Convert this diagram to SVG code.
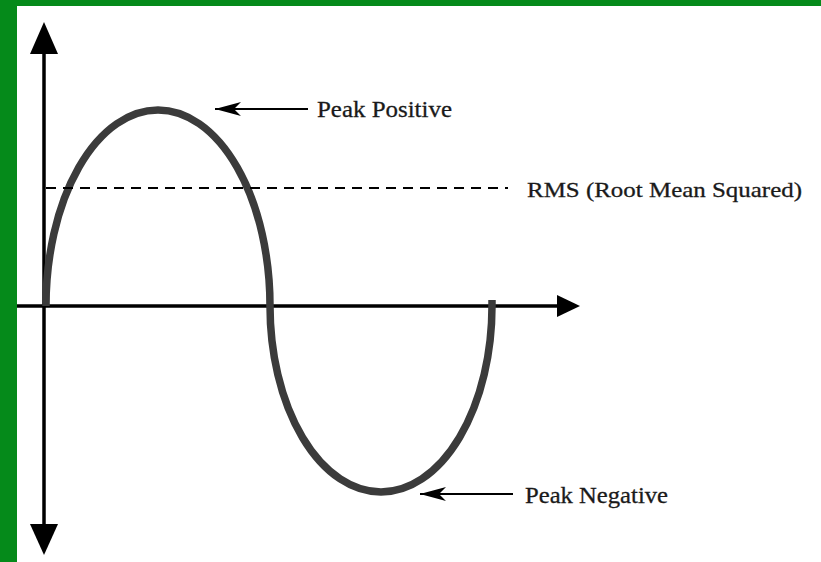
<svg xmlns="http://www.w3.org/2000/svg" width="821" height="562" viewBox="0 0 821 562">
<style>
.axis{stroke:#000;stroke-width:3.5;fill:none}
.head{fill:#000}
.wave{stroke:#3b3b3b;stroke-width:7.5;fill:none}
.rms{stroke:#000;stroke-width:2.2;stroke-dasharray:10 7;fill:none}
.lead{stroke:#000;stroke-width:2;fill:none}
.lbl{font-family:"Liberation Serif","Times New Roman",serif;font-size:24px;fill:#1a1a1a;stroke:#1a1a1a;stroke-width:0.3}
</style>
<defs>
<marker id="barb" viewBox="0 0 26 14" refX="26" refY="7" markerWidth="26" markerHeight="14" markerUnits="userSpaceOnUse" orient="auto">
<path d="M26,7 L0,0 L7,7 L0,14 Z" fill="#000"/>
</marker>
</defs>
<rect x="0" y="0" width="821" height="562" fill="#fff"/>
<rect x="0" y="0" width="821" height="6" fill="#058a1a"/>
<rect x="0" y="0" width="17" height="562" fill="#058a1a"/>
<g id="axes">
<line class="axis" x1="44" y1="50" x2="44" y2="528"/>
<polygon class="head" points="44,22 30,54 58,54"/>
<polygon class="head" points="44,555 30,524 58,524"/>
<line class="axis" x1="17" y1="306" x2="560" y2="306"/>
<polygon class="head" points="580,306 557,295 557,317"/>
</g>
<g id="wave">
<path class="wave" d="M46,306 A112,196 0 0 1 270,306 A111,186 0 0 0 492,306 L492,300"/>
</g>
<g id="rms-line">
<line class="rms" x1="46" y1="188" x2="508" y2="188"/>
</g>
<g id="connectors">
<line class="lead" x1="308" y1="109" x2="215" y2="109" marker-end="url(#barb)"/>
<line class="lead" x1="513" y1="494" x2="420" y2="494" marker-end="url(#barb)"/>
</g>
<g id="label-peak-positive">
<text class="lbl" x="317" y="117" textLength="135" lengthAdjust="spacingAndGlyphs">Peak Positive</text>
</g>
<g id="label-rms">
<text class="lbl" x="527" y="197" textLength="275" lengthAdjust="spacingAndGlyphs" style="font-size:22px">RMS (Root Mean Squared)</text>
</g>
<g id="label-peak-negative">
<text class="lbl" x="525" y="503" textLength="143" lengthAdjust="spacingAndGlyphs">Peak Negative</text>
</g>
</svg>
